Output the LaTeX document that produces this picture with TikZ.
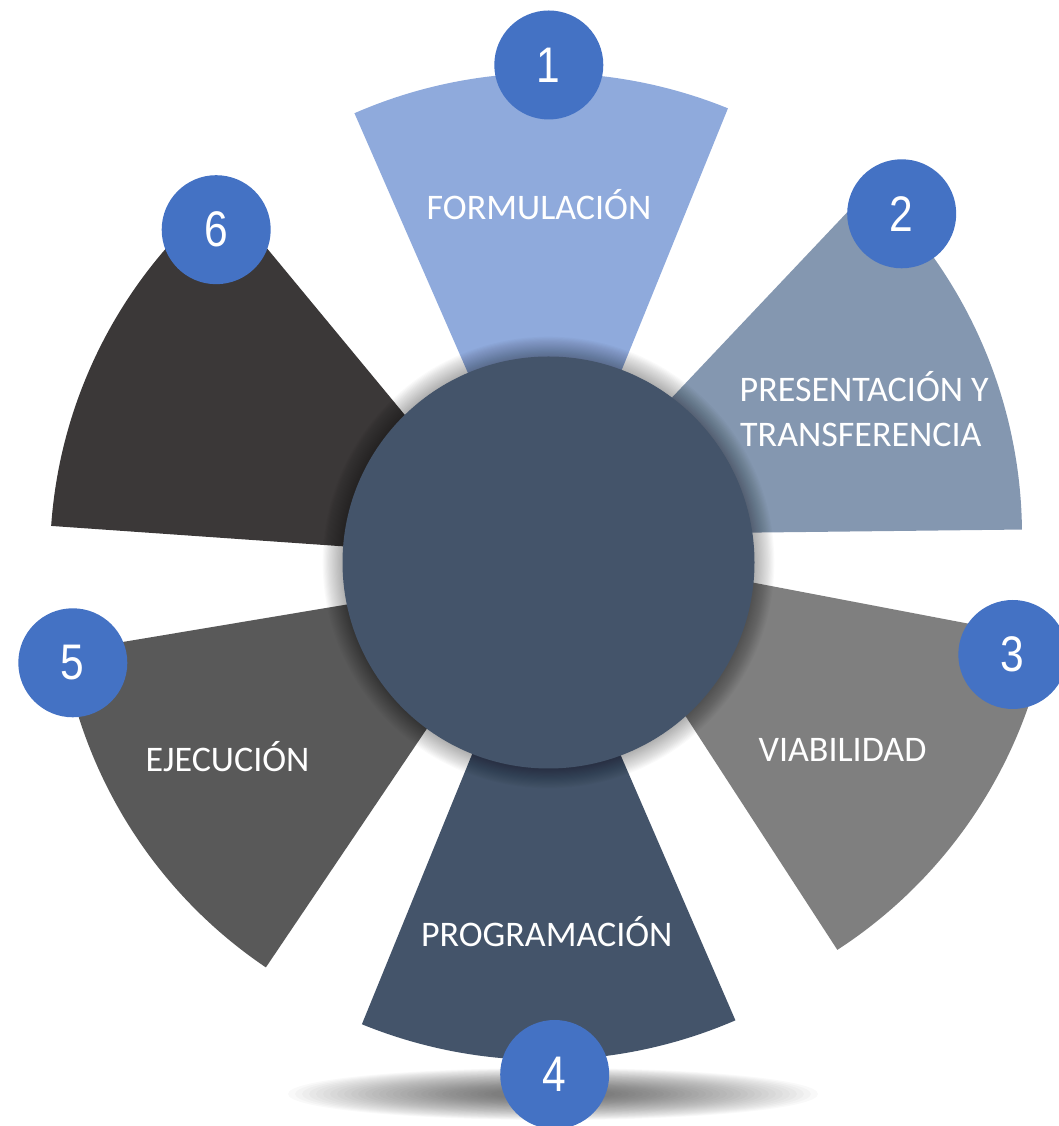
\documentclass[tikz,border=0pt]{standalone}
\usepackage{fontspec}
\setmainfont{Carlito}
\newfontfamily\numfont[FakeStretch=0.85]{Liberation Sans}
\definecolor{sOne}{HTML}{8FAADC}
\definecolor{sTwo}{HTML}{8497B0}
\definecolor{sThree}{HTML}{7F7F7F}
\definecolor{sFour}{HTML}{44546A}
\definecolor{sFive}{HTML}{595959}
\definecolor{sSix}{HTML}{3B3838}
\definecolor{hubc}{HTML}{44546A}
\definecolor{numblue}{HTML}{4472C4}
\begin{document}
\begin{tikzpicture}[x=1pt,y=1pt,
  lab/.style={text=white, font=\fontsize{36}{40}\selectfont, inner sep=0pt, anchor=base},
  numc/.style={circle, fill=numblue, minimum size=109pt, inner sep=0pt, text=white,
    font=\numfont\fontsize{50}{50}\selectfont}]
\useasboundingbox (0,0) rectangle (1058,1126);
% soft shadow below the wheel
\foreach \k in {0,...,29}
  \fill[black, opacity=0.022] (553,32) ellipse [x radius={265-\k*7}, y radius={26-\k*0.7}];
% sectors
\fill[sOne]   (547,572)   -- ++(67.9:481)  arc[start angle=67.9,  end angle=113.6, radius=481] -- cycle;
\fill[sTwo]   (542,591)   -- ++(0.65:480)  arc[start angle=0.65,  end angle=46.6,  radius=480] -- cycle;
\fill[sThree] (577,577)   -- ++(-57:478)   arc[start angle=-57,   end angle=-10.8, radius=478] -- cycle;
\fill[sFour]  (544,548)   -- ++(-112.2:482) arc[start angle=-112.2, end angle=-66.6, radius=482] -- cycle;
\fill[sFive]  (531.5,552.4) -- ++(-170.5:475) arc[start angle=-170.5, end angle=-124, radius=475] -- cycle;
\fill[sSix]   (524,567)   -- ++(129.6:474) arc[start angle=129.6, end angle=176,   radius=474] -- cycle;
% hub shadow
\foreach \k in {18,...,1}
  \fill[black, opacity=0.018] (548.5,563.5) circle ({206+\k*1.1});
\node[circle, fill=hubc, minimum size=412pt, inner sep=0pt] (hub) at (548.5,563.5) {};
% labels
\node[lab] (t1) at (539,906) {FORMULACIÓN};
\node[lab, anchor=base west] (t2a) at (739.5,724.3) {PRESENTACIÓN Y};
\node[lab, anchor=base west] (t2b) at (740,679.3) {TRANSFERENCIA};
\node[lab] (t3) at (842.5,364.3) {VIABILIDAD};
\node[lab] (t4) at (546.7,179.3) {PROGRAMACIÓN};
\node[lab] (t5) at (227.5,354.3) {EJECUCIÓN};
% number badges
\node[numc] (n1) at (548.8,1061) {1};
\node[numc] (n2) at (901.7,912.2) {2};
\node[numc] (n3) at (1012.8,471.5) {3};
\node[numc] (n4) at (554.7,51.5) {4};
\node[numc] (n5) at (72.8,463.2) {5};
\node[numc] (n6) at (216.2,896.3) {6};
\end{tikzpicture}
\end{document}
